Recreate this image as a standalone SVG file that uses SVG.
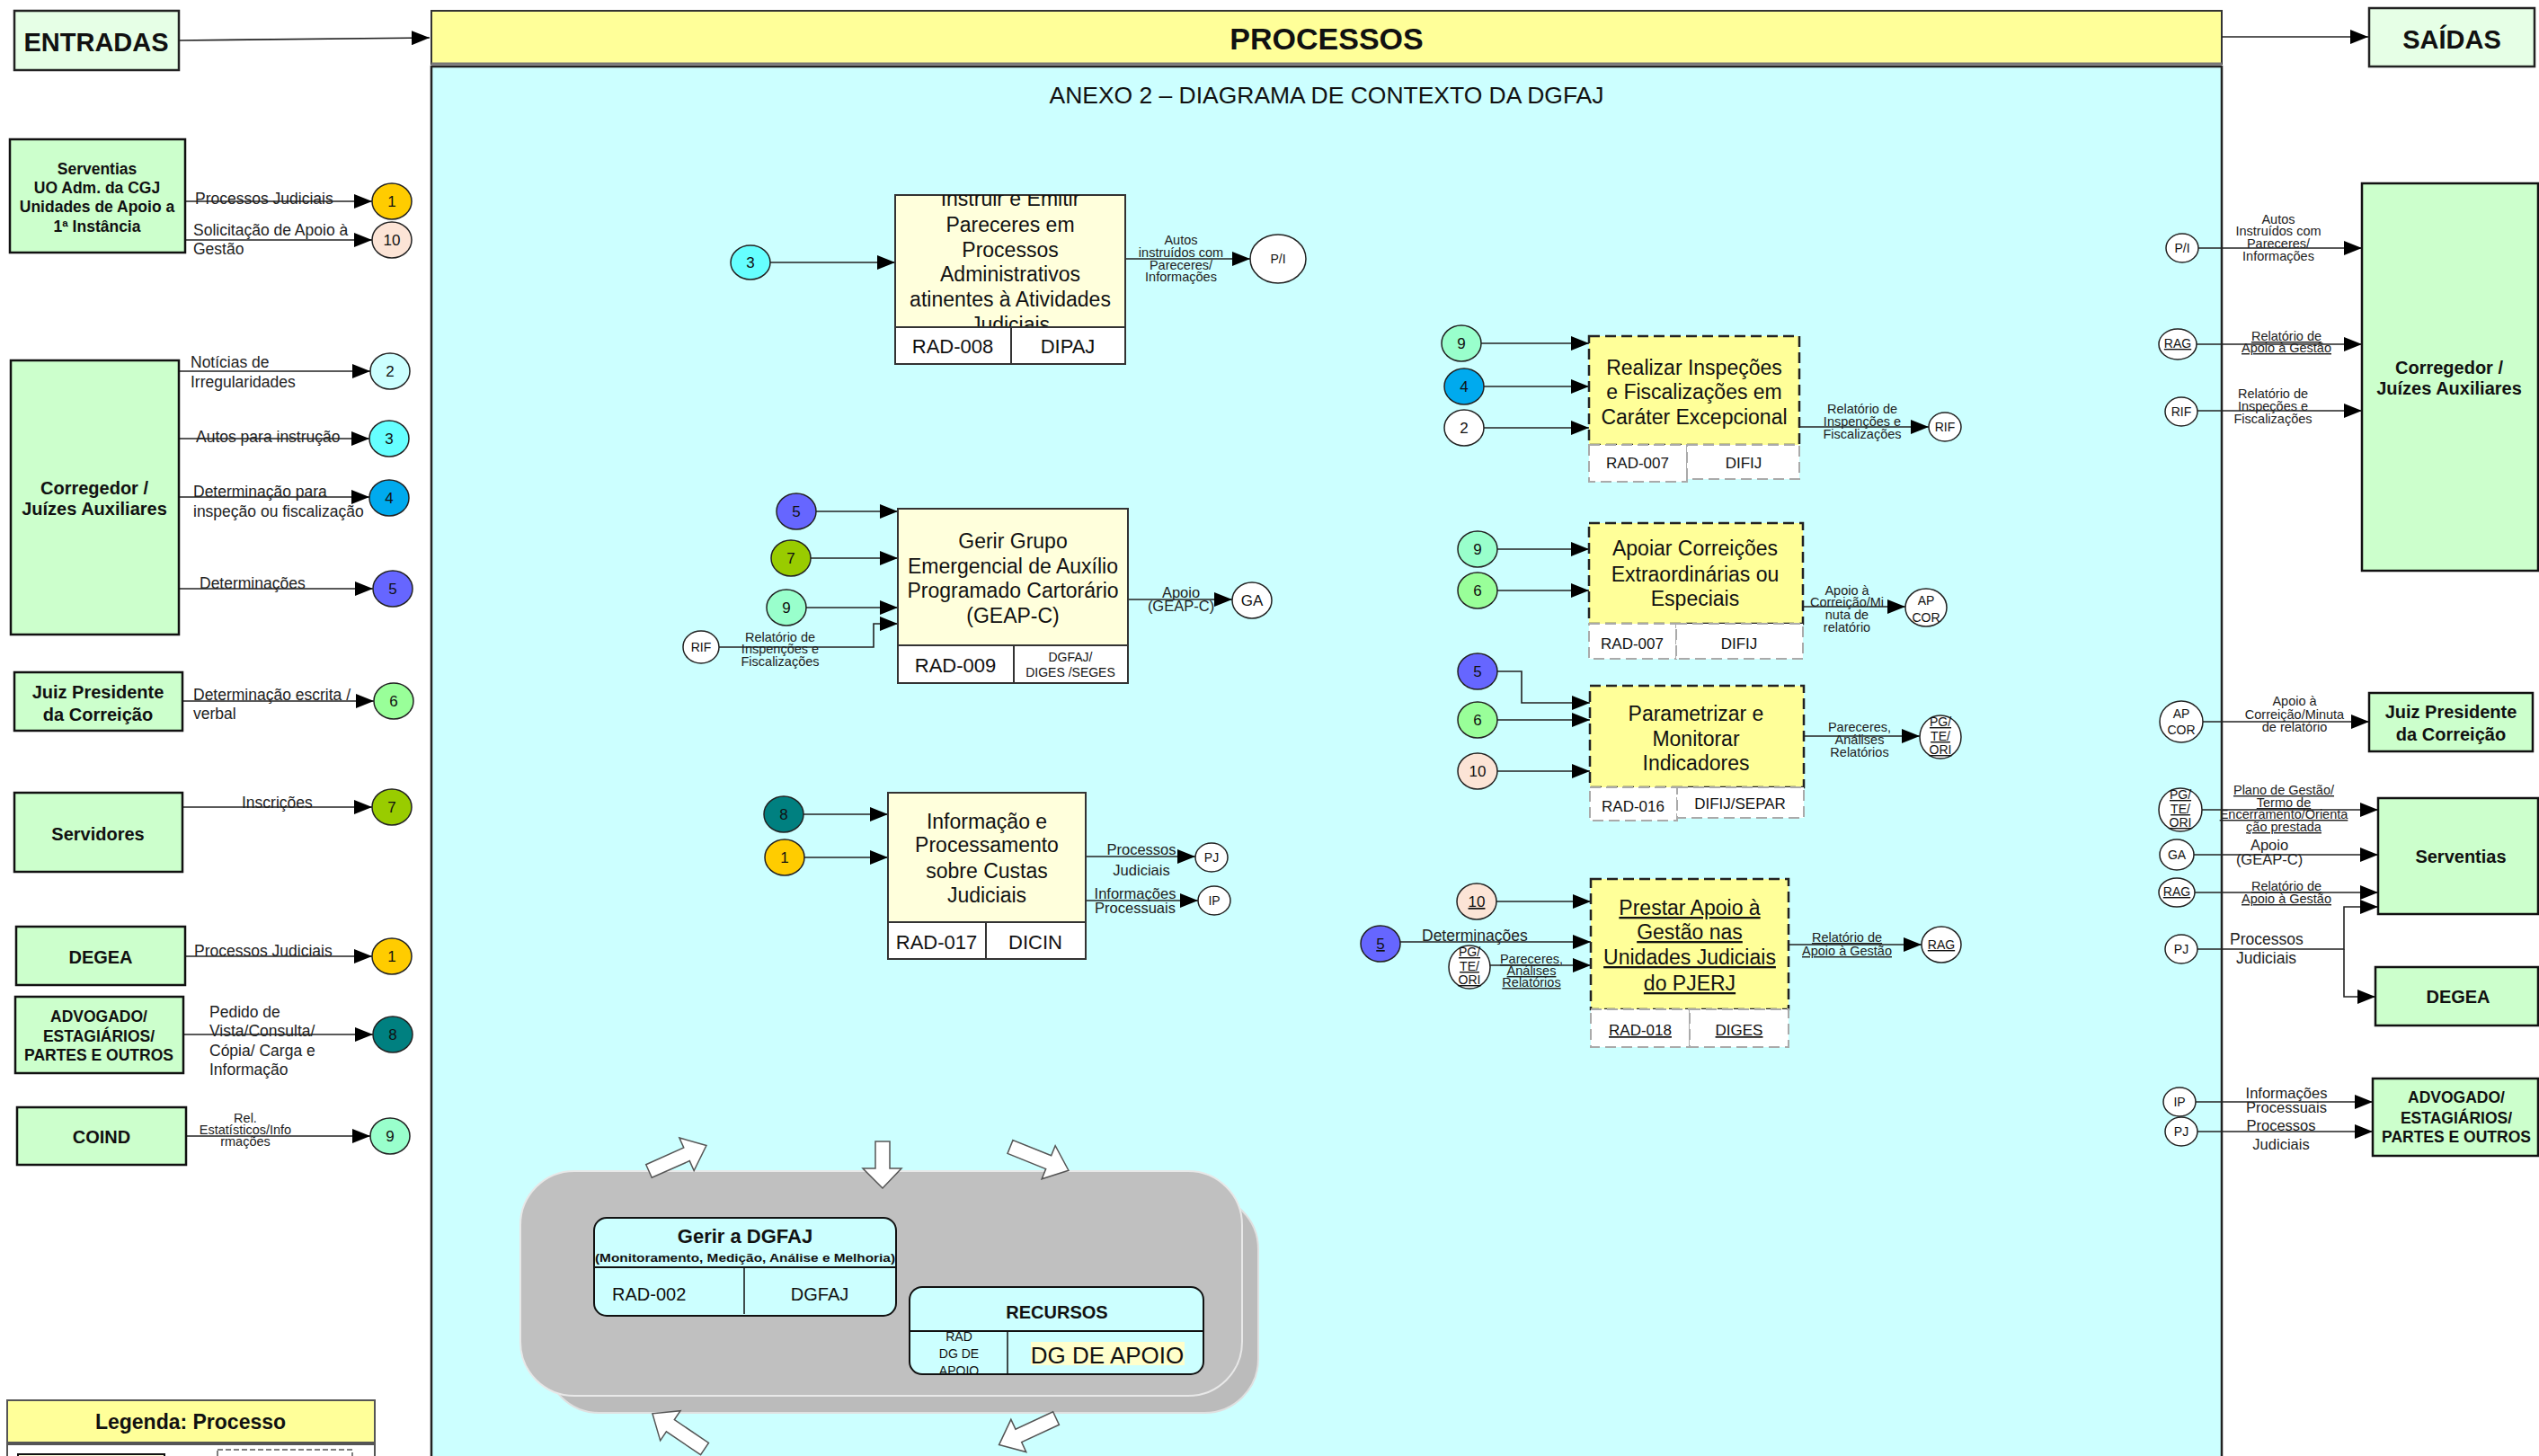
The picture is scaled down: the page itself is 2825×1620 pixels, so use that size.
<svg xmlns="http://www.w3.org/2000/svg" width="2825" height="1620" viewBox="0 0 2825 1620">
<defs>
<marker id="ah" markerUnits="userSpaceOnUse" markerWidth="20" markerHeight="16" viewBox="0 0 20 16" refX="20" refY="8" orient="auto"><path d="M0,0 L20,8 L0,16 z" fill="#000"/></marker>
<clipPath id="clipInstr"><rect x="996" y="217" width="256" height="147"/></clipPath>
<clipPath id="clipRec"><rect x="1012" y="1481" width="109" height="48"/></clipPath>
<path id="barrow" d="M0,-8 L46,-8 L46,-20 L70,0 L46,20 L46,8 L0,8 Z"/>
</defs>
<style>
text{font-family:"Liberation Sans",Arial,sans-serif;fill:#111}
.ent{fill:#CCFFCC;stroke:#111;stroke-width:2.5}
.hd{fill:#E6FFE6;stroke:#222;stroke-width:2.5}
.et{font-weight:bold;text-anchor:middle;font-size:20px}
.es{font-weight:bold;text-anchor:middle;font-size:17.5px}
.lb{font-size:17.5px;fill:#222}
.ls{font-size:14.5px;fill:#222;text-anchor:middle}
.lm{font-size:16.5px;fill:#222;text-anchor:middle}
.ln{stroke:#222;stroke-width:1.6;fill:none;marker-end:url(#ah)}
.proc{fill:#FFFFDC;stroke:#333;stroke-width:2}
.foot{fill:#fff;stroke:#333;stroke-width:2}
.dproc{fill:#FFFF99;stroke:#222;stroke-width:2.5;stroke-dasharray:12 6}
.dfoot{fill:#fff;stroke:#aaa;stroke-width:2;stroke-dasharray:12 6}
.pt{font-size:23px;text-anchor:middle}
.ft{font-size:22px;text-anchor:middle}
.fs{font-size:17px;text-anchor:middle}
.c{stroke:#222;stroke-width:1.5}
.cn{font-size:17px;text-anchor:middle}
.cs{font-size:14px;text-anchor:middle}
.u{text-decoration:underline}
.ba{fill:#fff;stroke:#555;stroke-width:1.5}
</style>
<rect x="0" y="0" width="2825" height="1620" fill="#fff"/>

<!-- header -->
<g id="entradas"><rect class="hd" x="16" y="12" width="183" height="66"/><text x="107" y="57" font-size="29" font-weight="bold" text-anchor="middle">ENTRADAS</text></g>
<g id="processos-bar"><rect x="480" y="12" width="1992" height="59" fill="#FFFF99" stroke="#333" stroke-width="2"/><line x1="480" y1="71" x2="2472" y2="71" stroke="#777" stroke-width="3"/><text x="1476" y="55" font-size="34" font-weight="bold" text-anchor="middle">PROCESSOS</text></g>
<g id="saidas"><rect class="hd" x="2636" y="9" width="184" height="65"/><text x="2728" y="54" font-size="29" font-weight="bold" text-anchor="middle">SAÍDAS</text></g>

<!-- process area -->
<rect id="area" x="480" y="74" width="1992" height="1560" fill="#CCFFFF" stroke="#222" stroke-width="2.5"/>
<text x="1476" y="115" font-size="25" text-anchor="middle" textLength="617" lengthAdjust="spacingAndGlyphs">ANEXO 2 – DIAGRAMA DE CONTEXTO DA DGFAJ</text>

<!-- connectors -->
<g id="connectors">
<line class="ln" x1="199" y1="45" x2="478" y2="42"/>
<line class="ln" x1="2472" y1="41" x2="2635" y2="41"/>
<!-- left -->
<line class="ln" x1="206" y1="224" x2="414" y2="224"/>
<line class="ln" x1="206" y1="267" x2="414" y2="267"/>
<line class="ln" x1="199" y1="413" x2="412" y2="413"/>
<line class="ln" x1="199" y1="488" x2="411" y2="488"/>
<line class="ln" x1="199" y1="553" x2="411" y2="553"/>
<line class="ln" x1="199" y1="655" x2="415" y2="655"/>
<line class="ln" x1="203" y1="780" x2="416" y2="780"/>
<line class="ln" x1="203" y1="898" x2="414" y2="898"/>
<line class="ln" x1="206" y1="1064" x2="414" y2="1064"/>
<line class="ln" x1="204" y1="1151" x2="415" y2="1151"/>
<line class="ln" x1="207" y1="1264" x2="412" y2="1264"/>
<!-- middle left processes -->
<line class="ln" x1="857" y1="292" x2="996" y2="292"/>
<line class="ln" x1="1252" y1="288" x2="1391" y2="288"/>
<line class="ln" x1="908" y1="569" x2="999" y2="569"/>
<line class="ln" x1="902" y1="621" x2="999" y2="621"/>
<line class="ln" x1="897" y1="676" x2="999" y2="676"/>
<polyline class="ln" points="800,720 972,720 972,694 999,694"/>
<line class="ln" x1="1255" y1="667" x2="1371" y2="667"/>
<line class="ln" x1="894" y1="906" x2="988" y2="906"/>
<line class="ln" x1="895" y1="954" x2="988" y2="954"/>
<line class="ln" x1="1208" y1="953" x2="1330" y2="953"/>
<line class="ln" x1="1208" y1="1002" x2="1333" y2="1002"/>
<!-- middle right processes -->
<line class="ln" x1="1648" y1="382" x2="1768" y2="382"/>
<line class="ln" x1="1651" y1="430" x2="1768" y2="430"/>
<line class="ln" x1="1651" y1="476" x2="1768" y2="476"/>
<line class="ln" x1="2002" y1="475" x2="2146" y2="475"/>
<line class="ln" x1="1666" y1="611" x2="1768" y2="611"/>
<line class="ln" x1="1666" y1="657" x2="1768" y2="657"/>
<line class="ln" x1="2006" y1="675" x2="2120" y2="675"/>
<polyline class="ln" points="1666,747 1693,747 1693,782 1769,782"/>
<line class="ln" x1="1666" y1="801" x2="1769" y2="801"/>
<line class="ln" x1="1666" y1="858" x2="1769" y2="858"/>
<line class="ln" x1="2007" y1="819" x2="2136" y2="819"/>
<line class="ln" x1="1665" y1="1003" x2="1770" y2="1003"/>
<line class="ln" x1="1558" y1="1048" x2="1770" y2="1048"/>
<line class="ln" x1="1658" y1="1074" x2="1770" y2="1074"/>
<line class="ln" x1="1990" y1="1051" x2="2138" y2="1051"/>
<!-- right -->
<line class="ln" x1="2446" y1="276" x2="2628" y2="276"/>
<line class="ln" x1="2444" y1="383" x2="2628" y2="383"/>
<line class="ln" x1="2445" y1="457" x2="2628" y2="457"/>
<line class="ln" x1="2451" y1="803" x2="2636" y2="803"/>
<line class="ln" x1="2450" y1="901" x2="2646" y2="901"/>
<line class="ln" x1="2441" y1="951" x2="2646" y2="951"/>
<line class="ln" x1="2442" y1="993" x2="2646" y2="993"/>
<path class="ln" d="M2445,1056 H2608 V1009 H2646"/>
<path class="ln" d="M2608,1056 V1109 H2643"/>
<line class="ln" x1="2443" y1="1226" x2="2640" y2="1226"/>
<line class="ln" x1="2445" y1="1259" x2="2640" y2="1259"/>
</g>

<!-- connector labels -->
<g id="labels">
<text class="lb" x="217" y="227">Processos Judiciais</text>
<text class="lb" x="215" y="262">Solicitação de Apoio à</text>
<text class="lb" x="215" y="283">Gestão</text>
<text class="lb" x="212" y="409">Notícias de</text>
<text class="lb" x="212" y="431">Irregularidades</text>
<text class="lb" x="218" y="492">Autos para instrução</text>
<text class="lb" x="215" y="553">Determinação para</text>
<text class="lb" x="215" y="575">inspeção ou fiscalização</text>
<text class="lb" x="222" y="655">Determinações</text>
<text class="lb" x="215" y="779">Determinação escrita /</text>
<text class="lb" x="215" y="800">verbal</text>
<text class="lb" x="269" y="899">Inscrições</text>
<text class="lb" x="216" y="1064">Processos Judiciais</text>
<text class="lb" x="233" y="1132">Pedido de</text>
<text class="lb" x="233" y="1153">Vista/Consulta/</text>
<text class="lb" x="233" y="1175">Cópia/ Carga e</text>
<text class="lb" x="233" y="1196">Informação</text>
<text class="ls" x="273" y="1249">Rel.</text>
<text class="ls" x="273" y="1262">Estatísticos/Info</text>
<text class="ls" x="273" y="1275">rmações</text>

<text class="ls" x="1314" y="272">Autos</text>
<text class="ls" x="1314" y="286">instruídos com</text>
<text class="ls" x="1314" y="300">Pareceres/</text>
<text class="ls" x="1314" y="313">Informações</text>
<text class="ls" x="868" y="714">Relatório  de</text>
<text class="ls" x="868" y="727">Inspenções e</text>
<text class="ls" x="868" y="741">Fiscalizações</text>
<text class="lm" x="1314" y="665">Apoio</text>
<text class="lm" x="1314" y="680">(GEAP-C)</text>
<text class="lm" x="1270" y="951">Processos</text>
<text class="lm" x="1270" y="974">Judiciais</text>
<text class="lm" x="1263" y="1000">Informações</text>
<text class="lm" x="1263" y="1016">Processuais</text>

<text class="ls" x="2072" y="460">Relatório  de</text>
<text class="ls" x="2072" y="474">Inspenções e</text>
<text class="ls" x="2072" y="488">Fiscalizações</text>
<text class="ls" x="2055" y="662">Apoio à</text>
<text class="ls" x="2055" y="675">Correição/Mi</text>
<text class="ls" x="2055" y="689">nuta de</text>
<text class="ls" x="2055" y="703">relatório</text>
<text class="ls" x="2069" y="814">Pareceres,</text>
<text class="ls" x="2069" y="828">Análises</text>
<text class="ls" x="2069" y="842">Relatórios</text>
<text class="lb" x="1582" y="1047">Determinações</text>
<text class="ls u" x="1704" y="1072">Pareceres,</text>
<text class="ls u" x="1704" y="1085">Análises</text>
<text class="ls u" x="1704" y="1098">Relatórios</text>
<text class="ls u" x="2055" y="1048">Relatório de</text>
<text class="ls u" x="2055" y="1063">Apoio à Gestão</text>

<text class="ls" x="2535" y="249">Autos</text>
<text class="ls" x="2535" y="262">Instruídos com</text>
<text class="ls" x="2535" y="276">Pareceres/</text>
<text class="ls" x="2535" y="290">Informações</text>
<text class="ls u" x="2544" y="379">Relatório de</text>
<text class="ls u" x="2544" y="392">Apoio à Gestão</text>
<text class="ls" x="2529" y="443">Relatório  de</text>
<text class="ls" x="2529" y="457">Inspeções e</text>
<text class="ls" x="2529" y="471">Fiscalizações</text>
<text class="ls" x="2553" y="785">Apoio à</text>
<text class="ls" x="2553" y="800">Correição/Minuta</text>
<text class="ls" x="2553" y="814">de relatório</text>
<text class="ls u" x="2541" y="884">Plano de Gestão/</text>
<text class="ls u" x="2541" y="898">Termo de</text>
<text class="ls u" x="2541" y="911">Encerramento/Orienta</text>
<text class="ls u" x="2541" y="925">ção prestada</text>
<text class="lm" x="2525" y="946" font-size="17.5">Apoio</text>
<text class="lm" x="2525" y="962" font-size="17.5">(GEAP-C)</text>
<text class="ls u" x="2544" y="991">Relatório de</text>
<text class="ls u" x="2544" y="1005">Apoio à Gestão</text>
<text class="lb" x="2481" y="1051">Processos</text>
<text class="lb" x="2488" y="1072">Judiciais</text>
<text class="lm" x="2544" y="1222" font-size="17">Informações</text>
<text class="lm" x="2544" y="1238" font-size="17">Processuais</text>
<text class="lm" x="2538" y="1258" font-size="17">Processos</text>
<text class="lm" x="2538" y="1279" font-size="17">Judiciais</text>
</g>

<!-- left entities -->
<g id="ent-serventias"><rect class="ent" x="11" y="155" width="195" height="126"/><text class="es" x="108" y="194">Serventias</text><text class="es" x="108" y="215">UO Adm. da CGJ</text><text class="es" x="108" y="236">Unidades de Apoio a</text><text class="es" x="108" y="258">1ª  Instância</text></g>
<g id="ent-corregedor"><rect class="ent" x="12" y="401" width="187" height="305"/><text class="et" x="105" y="550">Corregedor /</text><text class="et" x="105" y="573">Juízes Auxiliares</text></g>
<g id="ent-juiz"><rect class="ent" x="16" y="748" width="187" height="65"/><text class="et" x="109" y="777">Juiz Presidente</text><text class="et" x="109" y="802">da Correição</text></g>
<g id="ent-servidores"><rect class="ent" x="16" y="882" width="187" height="88"/><text class="et" x="109" y="935">Servidores</text></g>
<g id="ent-degea"><rect class="ent" x="18" y="1031" width="188" height="65"/><text class="et" x="112" y="1072">DEGEA</text></g>
<g id="ent-advogado"><rect class="ent" x="17" y="1109" width="187" height="85"/><text class="es" x="110" y="1137">ADVOGADO/</text><text class="es" x="110" y="1159">ESTAGIÁRIOS/</text><text class="es" x="110" y="1180">PARTES E OUTROS</text></g>
<g id="ent-coind"><rect class="ent" x="19" y="1232" width="188" height="64"/><text class="et" x="113" y="1272">COIND</text></g>

<!-- left circles -->
<g id="in-1a"><ellipse class="c" cx="436" cy="224" rx="22" ry="20" fill="#FFCC00"/><text class="cn" x="436" y="230">1</text></g>
<g id="in-10a"><ellipse class="c" cx="436" cy="267" rx="22" ry="20" fill="#FCE4D6"/><text class="cn" x="436" y="273">10</text></g>
<g id="in-2a"><ellipse class="c" cx="434" cy="413" rx="22" ry="20" fill="#CCFFFF"/><text class="cn" x="434" y="419">2</text></g>
<g id="in-3a"><ellipse class="c" cx="433" cy="488" rx="22" ry="20" fill="#66FFFF"/><text class="cn" x="433" y="494">3</text></g>
<g id="in-4a"><ellipse class="c" cx="433" cy="554" rx="22" ry="20" fill="#00AAEE"/><text class="cn" x="433" y="560">4</text></g>
<g id="in-5a"><ellipse class="c" cx="437" cy="655" rx="22" ry="20" fill="#6666FF"/><text class="cn" x="437" y="661">5</text></g>
<g id="in-6a"><ellipse class="c" cx="438" cy="780" rx="22" ry="20" fill="#99FF99"/><text class="cn" x="438" y="786">6</text></g>
<g id="in-7a"><ellipse class="c" cx="436" cy="898" rx="22" ry="20" fill="#99CC00"/><text class="cn" x="436" y="904">7</text></g>
<g id="in-1b"><ellipse class="c" cx="436" cy="1064" rx="22" ry="20" fill="#FFCC00"/><text class="cn" x="436" y="1070">1</text></g>
<g id="in-8a"><ellipse class="c" cx="437" cy="1151" rx="22" ry="20" fill="#008080"/><text class="cn" x="437" y="1157">8</text></g>
<g id="in-9a"><ellipse class="c" cx="434" cy="1264" rx="22" ry="20" fill="#99FFCC"/><text class="cn" x="434" y="1270">9</text></g>

<!-- process: Instruir -->
<g id="proc-rad008">
<rect class="proc" x="996" y="217" width="256" height="147"/>
<g clip-path="url(#clipInstr)">
<text class="pt" x="1124" y="229">Instruir e Emitir</text>
<text class="pt" x="1124" y="258">Pareceres em</text>
<text class="pt" x="1124" y="286">Processos</text>
<text class="pt" x="1124" y="313">Administrativos</text>
<text class="pt" x="1124" y="341">atinentes à Atividades</text>
<text class="pt" x="1124" y="369">Judiciais</text>
</g>
<rect class="foot" x="996" y="364" width="129" height="41"/><rect class="foot" x="1125" y="364" width="127" height="41"/>
<text class="ft" x="1060" y="393">RAD-008</text><text class="ft" x="1188" y="393">DIPAJ</text>
</g>
<g id="c-3m"><ellipse class="c" cx="835" cy="292" rx="22" ry="19" fill="#66FFFF"/><text class="cn" x="835" y="298">3</text></g>
<g id="o-pi"><ellipse class="c" cx="1422" cy="288" rx="31" ry="27" fill="#fff"/><text class="cs" x="1422" y="293" font-size="15">P/I</text></g>

<!-- process: GEAP-C -->
<g id="proc-rad009">
<rect class="proc" x="999" y="566" width="256" height="152"/>
<text class="pt" x="1127" y="610">Gerir Grupo</text>
<text class="pt" x="1127" y="638">Emergencial de Auxílio</text>
<text class="pt" x="1127" y="665">Programado Cartorário</text>
<text class="pt" x="1127" y="693">(GEAP-C)</text>
<rect class="foot" x="999" y="718" width="129" height="42"/><rect class="foot" x="1128" y="718" width="127" height="42"/>
<text class="ft" x="1063" y="748">RAD-009</text>
<text class="cs" x="1191" y="736">DGFAJ/</text><text class="cs" x="1191" y="753">DIGES /SEGES</text>
</g>
<g id="c-5m"><ellipse class="c" cx="886" cy="569" rx="22" ry="20" fill="#6666FF"/><text class="cn" x="886" y="575">5</text></g>
<g id="c-7m"><ellipse class="c" cx="880" cy="621" rx="22" ry="20" fill="#99CC00"/><text class="cn" x="880" y="627">7</text></g>
<g id="c-9m"><ellipse class="c" cx="875" cy="676" rx="22" ry="20" fill="#99FFCC"/><text class="cn" x="875" y="682">9</text></g>
<g id="c-rifm"><ellipse class="c" cx="780" cy="720" rx="20" ry="18" fill="#fff"/><text class="cs" x="780" y="725">RIF</text></g>
<g id="o-ga"><ellipse class="c" cx="1393" cy="668" rx="22" ry="20" fill="#fff"/><text class="cn" x="1393" y="674">GA</text></g>

<!-- process: Custas -->
<g id="proc-rad017">
<rect class="proc" x="988" y="882" width="220" height="144"/>
<text class="pt" x="1098" y="922">Informação e</text>
<text class="pt" x="1098" y="948">Processamento</text>
<text class="pt" x="1098" y="977">sobre Custas</text>
<text class="pt" x="1098" y="1004">Judiciais</text>
<rect class="foot" x="988" y="1026" width="109" height="41"/><rect class="foot" x="1097" y="1026" width="111" height="41"/>
<text class="ft" x="1042" y="1056" font-size="23">RAD-017</text><text class="ft" x="1152" y="1056" font-size="23">DICIN</text>
</g>
<g id="c-8m"><ellipse class="c" cx="872" cy="906" rx="22" ry="20" fill="#008080"/><text class="cn" x="872" y="912">8</text></g>
<g id="c-1m"><ellipse class="c" cx="873" cy="954" rx="22" ry="20" fill="#FFCC00"/><text class="cn" x="873" y="960">1</text></g>
<g id="o-pj"><ellipse class="c" cx="1348" cy="954" rx="18" ry="16" fill="#fff"/><text class="cs" x="1348" y="959">PJ</text></g>
<g id="o-ip"><ellipse class="c" cx="1351" cy="1002" rx="18" ry="16" fill="#fff"/><text class="cs" x="1351" y="1007">IP</text></g>

<!-- process: Realizar Inspeções -->
<g id="proc-rad007a">
<rect class="dproc" x="1768" y="374" width="234" height="121"/>
<text class="pt" x="1885" y="417">Realizar Inspeções</text>
<text class="pt" x="1885" y="444">e Fiscalizações em</text>
<text class="pt" x="1885" y="472">Caráter Excepcional</text>
<rect class="dfoot" x="1768" y="495" width="109" height="41"/><rect class="dfoot" x="1877" y="495" width="125" height="38"/>
<text class="fs" x="1822" y="521" font-size="16">RAD-007</text><text class="fs" x="1940" y="521" font-size="16">DIFIJ</text>
</g>
<g id="c-9r1"><ellipse class="c" cx="1626" cy="382" rx="22" ry="20" fill="#99FFCC"/><text class="cn" x="1626" y="388">9</text></g>
<g id="c-4r"><ellipse class="c" cx="1629" cy="430" rx="22" ry="20" fill="#00AAEE"/><text class="cn" x="1629" y="436">4</text></g>
<g id="c-2r"><ellipse class="c" cx="1629" cy="476" rx="22" ry="20" fill="#fff"/><text class="cn" x="1629" y="482">2</text></g>
<g id="o-rif"><ellipse class="c" cx="2164" cy="475" rx="18" ry="16" fill="#fff"/><text class="cs" x="2164" y="480">RIF</text></g>

<!-- process: Apoiar Correições -->
<g id="proc-rad007b">
<rect class="dproc" x="1768" y="582" width="238" height="112"/>
<text class="pt" x="1886" y="618">Apoiar Correições</text>
<text class="pt" x="1886" y="647">Extraordinárias ou</text>
<text class="pt" x="1886" y="674">Especiais</text>
<rect class="dfoot" x="1768" y="694" width="97" height="39"/><rect class="dfoot" x="1865" y="694" width="141" height="39"/>
<text class="fs" x="1816" y="722" font-size="18">RAD-007</text><text class="fs" x="1935" y="722" font-size="18">DIFIJ</text>
</g>
<g id="c-9r2"><ellipse class="c" cx="1644" cy="611" rx="22" ry="20" fill="#99FFCC"/><text class="cn" x="1644" y="617">9</text></g>
<g id="c-6r1"><ellipse class="c" cx="1644" cy="657" rx="22" ry="20" fill="#99FF99"/><text class="cn" x="1644" y="663">6</text></g>
<g id="o-apcor"><ellipse class="c" cx="2143" cy="676" rx="23" ry="21" fill="#fff"/><text class="cs" x="2143" y="673">AP</text><text class="cs" x="2143" y="692">COR</text></g>

<!-- process: Parametrizar -->
<g id="proc-rad016">
<rect class="dproc" x="1769" y="763" width="238" height="113"/>
<text class="pt" x="1887" y="802">Parametrizar e</text>
<text class="pt" x="1887" y="830">Monitorar</text>
<text class="pt" x="1887" y="857">Indicadores</text>
<rect class="dfoot" x="1769" y="876" width="97" height="37"/><rect class="dfoot" x="1866" y="876" width="141" height="34"/>
<text class="fs" x="1817" y="903" font-size="18">RAD-016</text><text class="fs" x="1936" y="900" font-size="18">DIFIJ/SEPAR</text>
</g>
<g id="c-5r1"><ellipse class="c" cx="1644" cy="747" rx="22" ry="20" fill="#6666FF"/><text class="cn" x="1644" y="753">5</text></g>
<g id="c-6r2"><ellipse class="c" cx="1644" cy="801" rx="22" ry="20" fill="#99FF99"/><text class="cn" x="1644" y="807">6</text></g>
<g id="c-10r1"><ellipse class="c" cx="1644" cy="858" rx="22" ry="20" fill="#FCE4D6"/><text class="cn" x="1644" y="864">10</text></g>
<g id="o-pg1"><ellipse class="c" cx="2159" cy="820" rx="23" ry="24" fill="#fff"/><text class="cs u" x="2159" y="808" font-size="12">PG/</text><text class="cs u" x="2159" y="824" font-size="12">TE/</text><text class="cs u" x="2159" y="839" font-size="12">ORI</text></g>

<!-- process: Prestar Apoio -->
<g id="proc-rad018">
<rect class="dproc" x="1770" y="978" width="220" height="145"/>
<text class="pt u" x="1880" y="1018">Prestar Apoio à</text>
<text class="pt u" x="1880" y="1045">Gestão nas</text>
<text class="pt u" x="1880" y="1073">Unidades Judiciais</text>
<text class="pt u" x="1880" y="1102">do PJERJ</text>
<rect class="dfoot" x="1770" y="1123" width="110" height="42"/><rect class="dfoot" x="1880" y="1123" width="110" height="42"/>
<text class="fs u" x="1825" y="1152" font-size="18">RAD-018</text><text class="fs u" x="1935" y="1152" font-size="18">DIGES</text>
</g>
<g id="c-10r2"><ellipse class="c" cx="1643" cy="1003" rx="22" ry="20" fill="#FCE4D6"/><text class="cn u" x="1643" y="1009">10</text></g>
<g id="c-5r2"><ellipse class="c" cx="1536" cy="1050" rx="22" ry="20" fill="#6666FF"/><text class="cn u" x="1536" y="1056">5</text></g>
<g id="c-pg2"><ellipse class="c" cx="1635" cy="1076" rx="23" ry="24" fill="#fff"/><text class="cs u" x="1635" y="1064" font-size="12">PG/</text><text class="cs u" x="1635" y="1080" font-size="12">TE/</text><text class="cs u" x="1635" y="1095" font-size="12">ORI</text></g>
<g id="o-rag"><ellipse class="c" cx="2160" cy="1051" rx="22" ry="20" fill="#fff"/><text class="cs u" x="2160" y="1056" font-size="13">RAG</text></g>

<!-- management area -->
<g id="gestao">
<rect x="607" y="1330" width="793" height="242" rx="60" fill="#BBBBBB" stroke="#E0E0E0" stroke-width="2"/>
<rect x="579" y="1303" width="803" height="250" rx="60" fill="#C0C0C0" stroke="#E8E8E8" stroke-width="2"/>
<use href="#barrow" class="ba" transform="translate(722,1303) rotate(-24)"/>
<path class="ba" d="M974,1270 L990,1270 L990,1300 L1003,1300 L982,1322 L960,1300 L974,1300 Z"/>
<use href="#barrow" class="ba" transform="translate(1124,1276) rotate(22)"/>
<use href="#barrow" class="ba" transform="translate(784,1612) rotate(-146)"/>
<use href="#barrow" class="ba" transform="translate(1175,1578) rotate(155)"/>
</g>
<g id="proc-rad002">
<rect x="661" y="1355" width="336" height="109" rx="14" fill="#CCFFFF" stroke="#111" stroke-width="2"/>
<line x1="661" y1="1410" x2="997" y2="1410" stroke="#111" stroke-width="2"/>
<line x1="828" y1="1410" x2="828" y2="1462" stroke="#111" stroke-width="1.5"/>
<text x="829" y="1383" font-size="22" font-weight="bold" text-anchor="middle">Gerir a DGFAJ</text>
<text x="829" y="1404" font-size="12.5" font-weight="bold" text-anchor="middle" textLength="334" lengthAdjust="spacingAndGlyphs">(Monitoramento, Medição, Análise e Melhoria)</text>
<text x="681" y="1447" font-size="20">RAD-002</text>
<text x="912" y="1447" font-size="20" text-anchor="middle">DGFAJ</text>
</g>
<g id="recursos">
<rect x="1012" y="1432" width="327" height="97" rx="14" fill="#CCFFFF" stroke="#111" stroke-width="2"/>
<line x1="1012" y1="1481" x2="1339" y2="1481" stroke="#111" stroke-width="2"/>
<line x1="1121" y1="1481" x2="1121" y2="1529" stroke="#111" stroke-width="1.5"/>
<text x="1176" y="1467" font-size="20" font-weight="bold" text-anchor="middle">RECURSOS</text>
<g clip-path="url(#clipRec)">
<text x="1067" y="1492" font-size="14" text-anchor="middle">RAD</text>
<text x="1067" y="1511" font-size="14" text-anchor="middle">DG DE</text>
<text x="1067" y="1530" font-size="14" text-anchor="middle">APOIO</text>
</g>
<rect x="1147" y="1493" width="171" height="26" fill="#FFFFCC"/>
<text x="1232" y="1517" font-size="26" text-anchor="middle">DG DE APOIO</text>
</g>

<!-- right entities -->
<g id="out-corregedor"><rect class="ent" x="2628" y="204" width="196" height="431"/><text class="et" x="2725" y="416">Corregedor /</text><text class="et" x="2725" y="439">Juízes Auxiliares</text></g>
<g id="out-juiz"><rect class="ent" x="2636" y="771" width="182" height="65"/><text class="et" x="2727" y="799">Juiz Presidente</text><text class="et" x="2727" y="824">da Correição</text></g>
<g id="out-serventias"><rect class="ent" x="2646" y="888" width="178" height="129"/><text class="et" x="2738" y="960">Serventias</text></g>
<g id="out-degea"><rect class="ent" x="2643" y="1076" width="181" height="65"/><text class="et" x="2735" y="1116">DEGEA</text></g>
<g id="out-advogado"><rect class="ent" x="2640" y="1200" width="184" height="86"/><text class="es" x="2733" y="1227">ADVOGADO/</text><text class="es" x="2733" y="1250">ESTAGIÁRIOS/</text><text class="es" x="2733" y="1271">PARTES E OUTROS</text></g>

<!-- right circles -->
<g id="r-pi"><ellipse class="c" cx="2428" cy="276" rx="18" ry="16" fill="#fff"/><text class="cs" x="2428" y="281">P/I</text></g>
<g id="r-rag1"><ellipse class="c" cx="2423" cy="383" rx="21" ry="17" fill="#fff"/><text class="cs u" x="2423" y="387" font-size="12">RAG</text></g>
<g id="r-rif"><ellipse class="c" cx="2427" cy="458" rx="18" ry="16" fill="#fff"/><text class="cs" x="2427" y="463">RIF</text></g>
<g id="r-apcor"><ellipse class="c" cx="2427" cy="803" rx="24" ry="23" fill="#fff"/><text class="cs" x="2427" y="799" font-size="15">AP</text><text class="cs" x="2427" y="817" font-size="15">COR</text></g>
<g id="r-pg"><ellipse class="c" cx="2426" cy="901" rx="24" ry="24" fill="#fff"/><text class="cs u" x="2426" y="889" font-size="12">PG/</text><text class="cs u" x="2426" y="905" font-size="12">TE/</text><text class="cs u" x="2426" y="920" font-size="12">ORI</text></g>
<g id="r-ga"><ellipse class="c" cx="2422" cy="951" rx="19" ry="17" fill="#fff"/><text class="cs" x="2422" y="956" font-size="15">GA</text></g>
<g id="r-rag2"><ellipse class="c" cx="2422" cy="993" rx="20" ry="16" fill="#fff"/><text class="cs u" x="2422" y="997" font-size="12">RAG</text></g>
<g id="r-pj1"><ellipse class="c" cx="2427" cy="1056" rx="18" ry="16" fill="#fff"/><text class="cs" x="2427" y="1061" font-size="15">PJ</text></g>
<g id="r-ip"><ellipse class="c" cx="2425" cy="1226" rx="18" ry="16" fill="#fff"/><text class="cs" x="2425" y="1231" font-size="15">IP</text></g>
<g id="r-pj2"><ellipse class="c" cx="2427" cy="1259" rx="18" ry="16" fill="#fff"/><text class="cs" x="2427" y="1264" font-size="15">PJ</text></g>

<!-- legend -->
<g id="legenda">
<rect x="8" y="1558" width="409" height="47" fill="#FFFF99" stroke="#555" stroke-width="2"/>
<text x="212" y="1590" font-size="23" font-weight="bold" text-anchor="middle">Legenda: Processo</text>
<rect x="8" y="1607" width="409" height="30" fill="#fff" stroke="#555" stroke-width="2"/>
<rect x="20" y="1618" width="163" height="20" fill="#FFFFDC" stroke="#111" stroke-width="2"/>
<rect x="242" y="1613" width="150" height="20" fill="#fff" stroke="#555" stroke-width="1.5" stroke-dasharray="6 3"/>
</g>
</svg>
